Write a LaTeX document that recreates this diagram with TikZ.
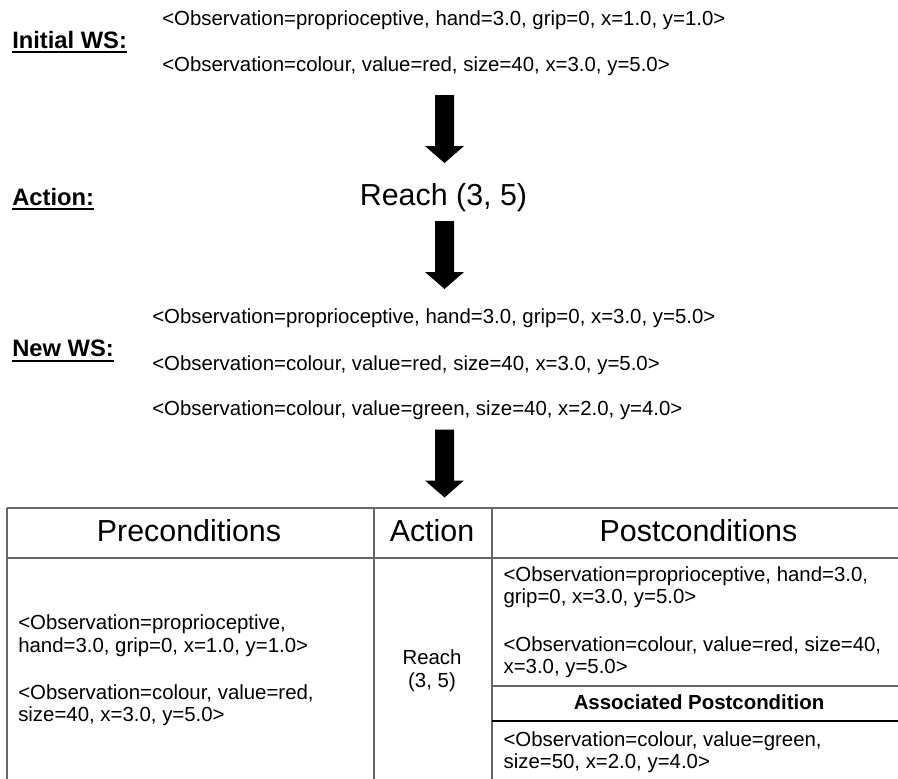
\documentclass[tikz,border=0pt]{standalone}
\usepackage{fontspec}
\setmainfont{Liberation Sans}
\begin{document}
\begin{tikzpicture}[x=0.75pt,y=-0.75pt,
  txt/.style={inner sep=0pt,anchor=base west,font=\fontsize{15.3}{17.5}\selectfont},
  big/.style={inner sep=0pt,anchor=base,font=\fontsize{22.8}{26}\selectfont},
  lbl/.style={inner sep=0pt,anchor=base west,font=\fontsize{17.8}{20}\selectfont\bfseries},
  cell/.style={inner sep=0pt,anchor=base west,align=left,font=\fontsize{15.3}{17.5}\selectfont},
  uline/.style={line width=1.5pt},
  tbl/.style={draw=black!60,line width=1.5pt},
  blockarrow/.pic={\fill (-9.5,0) -- (9.5,0) -- (9.5,51) -- (19.5,51) -- (0,68) -- (-19.5,51) -- (-9.5,51) -- cycle;}]
\useasboundingbox (0,0) rectangle (898,778);
\clip (0,0) rectangle (898,778);

% initial working state
\node[lbl] (iws) at (12,48.3) {Initial WS:};
\draw[uline] ([yshift=-3pt]iws.base west) -- ([yshift=-3pt]iws.base east);
\node[txt] (i1) at (162,25) {<Observation=proprioceptive, hand=3.0, grip=0, x=1.0, y=1.0>};
\node[txt] (i2) at (162,71.5) {<Observation=colour, value=red, size=40, x=3.0, y=5.0>};

\pic at (444.5,95) {blockarrow};

% action
\node[lbl] (act) at (12,205) {Action:};
\draw[uline] ([yshift=-3pt]act.base west) -- ([yshift=-3pt]act.base east);
\node[big] (reach) at (443.5,205) {Reach (3, 5)};

\pic at (444.5,221) {blockarrow};

% new working state
\node[lbl] (nws) at (12,356.7) {New WS:};
\draw[uline] ([yshift=-3pt]nws.base west) -- ([yshift=-3pt]nws.base east);
\node[txt] (n1) at (152,323.3) {<Observation=proprioceptive, hand=3.0, grip=0, x=3.0, y=5.0>};
\node[txt] (n2) at (152,370) {<Observation=colour, value=red, size=40, x=3.0, y=5.0>};
\node[txt] (n3) at (152,415) {<Observation=colour, value=green, size=40, x=2.0, y=4.0>};

\pic at (444.5,429.5) {blockarrow};

% schema table
\draw[tbl] (7,508) -- (910,508);
\draw[tbl] (7,558) -- (910,558);
\draw[tbl] (7,508) -- (7,790);
\draw[tbl] (374,508) -- (374,790);
\draw[tbl] (492,508) -- (492,790);
\draw[tbl] (492,686) -- (910,686);
\draw[line width=1.2pt] (492,721) -- (910,721);

\node[big] (hpre) at (189,541.7) {Preconditions};
\node[big] (hact) at (432,541.7) {Action};
\node[big] (hpost) at (698.5,541.7) {Postconditions};

\node[txt] (p1) at (18,629.3) {<Observation=proprioceptive,};
\node[txt] (p2) at (18,652.7) {hand=3.0, grip=0, x=1.0, y=1.0>};
\node[txt] (p3) at (18,699.3) {<Observation=colour, value=red,};
\node[txt] (p4) at (18,721.5) {size=40, x=3.0, y=5.0>};

\node[txt,anchor=base] (a1) at (432,664) {Reach};
\node[txt,anchor=base] (a2) at (432,687.7) {(3, 5)};

\node[txt] (q1) at (503.3,581.7) {<Observation=proprioceptive, hand=3.0,};
\node[txt] (q2) at (503.3,603.3) {grip=0, x=3.0, y=5.0>};
\node[txt] (q3) at (503.3,651) {<Observation=colour, value=red, size=40,};
\node[txt] (q4) at (503.3,673.3) {x=3.0, y=5.0>};
\node[txt,anchor=base,font=\fontsize{15.3}{17.5}\selectfont\bfseries] (assoc) at (699,709.3) {Associated Postcondition};
\node[txt] (q5) at (503.3,746.7) {<Observation=colour, value=green,};
\node[txt] (q6) at (503.3,768.3) {size=50, x=2.0, y=4.0>};
\end{tikzpicture}
\end{document}
